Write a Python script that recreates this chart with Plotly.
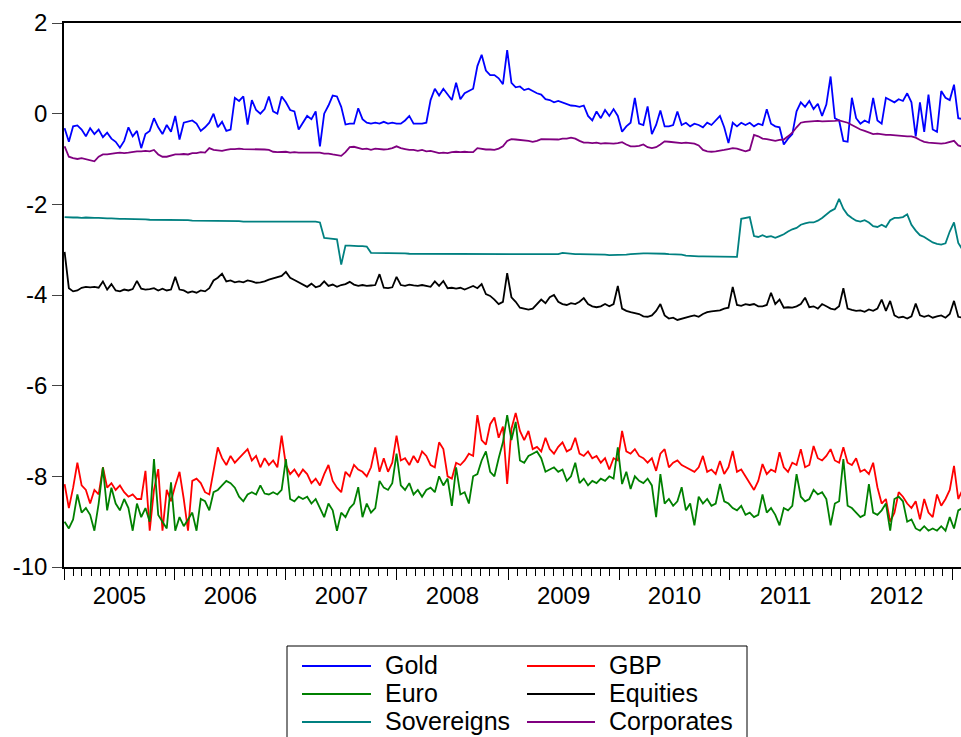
import pandas as pd
import plotly.graph_objects as go

# Fortnightly observations, January 2005 to January 2013
dates = pd.date_range("2005-01-03", periods=212, freq="14D")

gold = [
    -0.32, -0.62, -0.28, -0.26, -0.35, -0.5, -0.32, -0.45, -0.35, -0.52,
    -0.42, -0.55, -0.62, -0.75, -0.6, -0.3, -0.5, -0.38, -0.76, -0.45,
    -0.38, -0.1, -0.3, -0.45, -0.25, -0.4, -0.05, -0.57, -0.2, -0.18,
    -0.15, -0.22, -0.38, -0.3, -0.2, 0.0, -0.3, -0.18, -0.38, -0.35,
    0.35, 0.28, 0.38, -0.24, 0.3, 0.08, 0.0, 0.1, 0.38, 0.05,
    0.0, 0.38, 0.25, 0.08, 0.05, -0.35, -0.2, -0.05, -0.12, 0.05,
    -0.72, 0.0, 0.18, 0.4, 0.38, 0.15, -0.24, -0.22, -0.22, 0.12,
    -0.12, -0.2, -0.22, -0.2, -0.22, -0.18, -0.22, -0.2, -0.22, -0.22,
    -0.15, -0.05, -0.22, -0.22, -0.22, -0.2, 0.3, 0.55, 0.4, 0.55,
    0.42, 0.3, 0.68, 0.32, 0.45, 0.5, 0.55, 1.05, 1.3, 0.95,
    0.85, 0.85, 0.78, 0.65, 1.4, 0.68, 0.58, 0.6, 0.52, 0.55,
    0.5, 0.45, 0.42, 0.32, 0.3, 0.25, 0.28, 0.25, 0.22, 0.18,
    0.17, 0.15, 0.18, -0.05, -0.15, 0.05, -0.1, 0.08, -0.05, 0.1,
    -0.05, -0.4, -0.28, -0.2, 0.35, -0.22, -0.25, 0.16, -0.45, -0.25,
    0.07, -0.28, -0.28, -0.25, 0.05, -0.25, -0.2, -0.28, -0.22, -0.25,
    -0.3, -0.2, -0.25, -0.15, -0.05, -0.3, -0.65, -0.2, -0.28, -0.2,
    -0.25, -0.2, -0.28, -0.22, -0.25, 0.1, -0.22, -0.28, -0.3, -0.68,
    -0.55, -0.45, 0.05, 0.25, 0.15, 0.28, 0.1, 0.22, -0.05, 0.2,
    0.82, -0.1, -0.15, -0.6, -0.62, 0.35, -0.1, -0.22, -0.15, -0.2,
    0.35, -0.15, -0.22, 0.35, 0.3, 0.25, 0.32, 0.28, 0.45, 0.25,
    -0.5, 0.25, -0.4, 0.42, -0.35, -0.4, 0.5, 0.35, 0.3, 0.64,
    -0.1, -0.12,
]

gbp = [
    -8.17, -8.7, -8.25, -7.7, -8.2, -8.3, -8.6, -8.3, -8.4, -7.8,
    -8.25, -8.15, -8.3, -8.2, -8.35, -8.45, -8.4, -8.5, -8.5, -7.88,
    -9.2, -8.3, -7.84, -9.2, -8.3, -8.55, -8.2, -7.9, -8.5, -9.2,
    -8.1, -8.05, -8.15, -8.35, -8.4, -7.9, -7.36, -7.6, -7.75, -7.55,
    -7.7, -7.6, -7.5, -7.4, -7.65, -7.55, -7.8, -7.6, -7.75, -7.65,
    -7.8, -7.1, -7.75, -7.95, -7.85, -8.0, -7.85, -7.95, -8.15, -8.05,
    -8.2, -7.95, -7.75, -8.1, -8.25, -8.35, -7.9, -8.0, -7.75, -7.85,
    -7.9, -8.0, -7.8, -7.36, -7.9, -7.6, -7.9, -7.7, -7.1, -7.65,
    -7.6, -7.75, -7.55, -7.7, -7.45, -7.55, -7.75, -7.8, -7.25, -7.4,
    -8.0, -8.05, -7.7, -7.75, -7.65, -7.5, -7.55, -6.65, -7.2, -7.3,
    -6.85, -6.7, -7.15, -6.9, -8.17, -6.95, -6.6, -7.0, -7.2, -7.0,
    -7.4, -7.35, -7.45, -7.15, -7.4, -7.5, -7.35, -7.25, -7.45, -7.4,
    -7.15, -7.5, -7.55, -7.45, -7.6, -7.55, -7.7, -7.6, -7.85, -7.6,
    -7.65, -7.0, -7.45, -7.5, -7.4, -7.55, -7.6, -7.7, -7.6, -7.88,
    -7.5, -7.4, -7.8, -7.7, -7.65, -7.75, -7.8, -7.85, -7.9, -7.8,
    -7.55, -7.9, -7.85, -7.95, -7.66, -7.95, -7.8, -7.44, -7.9, -7.85,
    -8.0, -8.15, -8.3, -8.1, -7.73, -7.95, -7.85, -7.9, -7.47, -7.8,
    -7.9, -7.7, -7.75, -7.4, -7.8, -7.75, -7.33, -7.6, -7.65, -7.55,
    -7.4, -7.65, -7.7, -7.36, -7.7, -7.75, -7.6, -7.9, -7.85, -7.95,
    -7.7, -8.24, -8.6, -8.5, -9.0, -8.8, -8.35, -8.45, -8.6, -8.7,
    -8.55, -8.95, -8.5, -8.8, -8.9, -8.4, -8.65, -8.5, -8.3, -7.77,
    -8.5, -8.3,
]

euro = [
    -9.0, -9.15, -8.95, -8.4, -8.8, -8.7, -8.85, -9.2, -8.6, -7.8,
    -8.75, -8.25, -8.6, -8.75, -8.5, -8.7, -9.2, -8.6, -8.9, -8.7,
    -9.0, -7.62, -8.85, -9.0, -9.15, -8.13, -9.2, -8.9, -9.1, -8.95,
    -8.8, -9.2, -8.5, -8.55, -8.75, -8.35, -8.3, -8.2, -8.1, -8.15,
    -8.25, -8.45, -8.55, -8.4, -8.35, -8.4, -8.2, -8.38, -8.4, -8.35,
    -8.4, -8.3, -7.62, -8.5, -8.55, -8.45, -8.5, -8.45, -8.6, -8.5,
    -8.7, -8.9, -8.6, -8.75, -9.2, -8.8, -8.9, -8.7, -8.6, -8.24,
    -8.9, -8.6, -8.8, -8.7, -8.1, -8.25, -8.3, -8.15, -7.5, -8.2,
    -8.3, -8.15, -8.4, -8.3, -8.45, -8.3, -8.25, -8.35, -8.0, -8.2,
    -8.05, -8.65, -7.8, -8.4, -8.35, -8.6, -8.0, -7.95, -7.65, -7.45,
    -7.9, -8.0, -7.6, -7.25, -6.65, -7.2, -6.8, -7.65, -7.7, -7.55,
    -7.5, -7.45, -7.6, -7.9, -7.85, -7.8, -7.9, -7.85, -8.1, -8.0,
    -7.7, -8.15, -8.05, -8.2, -8.1, -8.15, -8.05, -8.1, -8.0, -8.05,
    -7.36, -8.17, -7.9, -8.28, -8.0, -8.1, -8.15, -8.05, -8.2, -8.9,
    -7.95, -8.6, -8.5, -8.65, -8.55, -8.24, -8.75, -8.6, -9.08, -8.45,
    -8.6, -8.5, -8.65, -8.6, -8.17, -8.55, -8.6, -8.7, -8.75, -8.65,
    -8.85, -8.8, -8.9, -8.85, -8.4, -8.8, -8.7, -8.85, -9.08, -8.7,
    -8.75, -8.65, -7.95, -8.45, -8.55, -8.5, -8.3, -8.4, -8.35, -8.5,
    -9.08, -8.6, -8.55, -7.62, -8.65, -8.7, -8.8, -8.9, -8.85, -8.17,
    -8.8, -8.85, -8.75, -8.6, -9.2, -8.5, -8.45, -8.55, -9.0, -8.95,
    -9.15, -9.2, -9.1, -9.2, -9.15, -9.2, -9.1, -9.2, -8.9, -9.15,
    -8.75, -8.7,
]

equities = [
    -3.05, -3.85, -3.92, -3.9, -3.84, -3.82, -3.83, -3.82, -3.84, -3.7,
    -3.88, -3.76, -3.9, -3.92, -3.88, -3.9, -3.87, -3.69, -3.86, -3.88,
    -3.87, -3.85, -3.9, -3.86, -3.9, -3.88, -3.6, -3.88, -3.9, -3.95,
    -3.92, -3.95, -3.9, -3.92, -3.85, -3.68, -3.62, -3.53, -3.7, -3.68,
    -3.72, -3.7, -3.72, -3.68, -3.7, -3.73, -3.72, -3.7, -3.66, -3.63,
    -3.6, -3.58, -3.49, -3.62, -3.67, -3.72, -3.78, -3.82, -3.75, -3.83,
    -3.8, -3.7, -3.8, -3.77, -3.82, -3.78, -3.76, -3.71, -3.77, -3.8,
    -3.78, -3.8, -3.79, -3.78, -3.54, -3.84, -3.85, -3.83, -3.6, -3.78,
    -3.8, -3.77, -3.79, -3.8, -3.78, -3.8, -3.82, -3.7, -3.8, -3.69,
    -3.85, -3.84, -3.86, -3.84, -3.88, -3.84, -3.8, -3.85, -3.76, -3.98,
    -4.02, -4.1, -4.2, -4.15, -3.52, -4.05, -4.15, -4.28, -4.3, -4.32,
    -4.3, -4.2, -4.1, -4.18, -4.05, -4.0, -4.15, -4.2, -4.22, -4.18,
    -4.2, -4.15, -4.07, -4.2, -4.25, -4.27, -4.25, -4.2, -4.25, -4.2,
    -3.8, -4.3, -4.35, -4.38, -4.4, -4.42, -4.47, -4.48, -4.45, -4.35,
    -4.2, -4.45, -4.52, -4.5, -4.55, -4.52, -4.5, -4.47, -4.45, -4.48,
    -4.42, -4.38, -4.36, -4.35, -4.34, -4.3, -4.28, -3.82, -4.22, -4.24,
    -4.2, -4.22, -4.2, -4.25, -4.25, -4.22, -3.95, -4.2, -4.1, -4.28,
    -4.27, -4.28, -4.25, -4.2, -4.06, -4.27, -4.25, -4.3, -4.2, -4.25,
    -4.3, -4.32, -4.25, -3.85, -4.3, -4.33, -4.35, -4.34, -4.37, -4.32,
    -4.35, -4.3, -4.1, -4.35, -4.13, -4.45, -4.5, -4.48, -4.52, -4.47,
    -4.19, -4.45, -4.48, -4.45, -4.5, -4.47, -4.45, -4.5, -4.42, -4.13,
    -4.48, -4.5,
]

sovereigns = [
    -2.28, -2.29, -2.29, -2.29, -2.30, -2.29, -2.30, -2.30, -2.30, -2.31,
    -2.31, -2.31, -2.32, -2.32, -2.32, -2.32, -2.33, -2.33, -2.33, -2.33,
    -2.34, -2.34, -2.34, -2.34, -2.35, -2.35, -2.35, -2.35, -2.35, -2.35,
    -2.36, -2.36, -2.36, -2.36, -2.36, -2.36, -2.36, -2.36, -2.37, -2.37,
    -2.37, -2.37, -2.38, -2.38, -2.38, -2.38, -2.38, -2.38, -2.38, -2.38,
    -2.38, -2.38, -2.38, -2.38, -2.38, -2.38, -2.38, -2.38, -2.38, -2.38,
    -2.40, -2.74, -2.75, -2.76, -2.77, -3.33, -2.91, -2.91, -2.92, -2.92,
    -2.92, -2.93, -3.07, -3.07, -3.07, -3.07, -3.08, -3.08, -3.08, -3.08,
    -3.08, -3.09, -3.09, -3.09, -3.09, -3.09, -3.09, -3.09, -3.09, -3.09,
    -3.09, -3.10, -3.10, -3.10, -3.10, -3.10, -3.10, -3.10, -3.10, -3.10,
    -3.10, -3.10, -3.10, -3.10, -3.10, -3.10, -3.10, -3.10, -3.09, -3.09,
    -3.10, -3.10, -3.10, -3.10, -3.10, -3.10, -3.10, -3.07, -3.08, -3.10,
    -3.10, -3.10, -3.10, -3.10, -3.10, -3.10, -3.11, -3.11, -3.12, -3.12,
    -3.12, -3.11, -3.11, -3.10, -3.09, -3.08, -3.08, -3.08, -3.08, -3.08,
    -3.08, -3.09, -3.10, -3.10, -3.10, -3.11, -3.13, -3.14, -3.14, -3.15,
    -3.15, -3.15, -3.15, -3.16, -3.15, -3.15, -3.15, -3.16, -3.16, -2.32,
    -2.30, -2.28, -2.70, -2.72, -2.68, -2.72, -2.70, -2.74, -2.70, -2.66,
    -2.60, -2.55, -2.52, -2.45, -2.42, -2.40, -2.40, -2.36, -2.30, -2.22,
    -2.15, -2.10, -1.88, -2.10, -2.23, -2.30, -2.36, -2.38, -2.35, -2.40,
    -2.48, -2.50, -2.45, -2.50, -2.35, -2.30, -2.30, -2.28, -2.22, -2.45,
    -2.58, -2.68, -2.72, -2.78, -2.84, -2.87, -2.89, -2.86, -2.60, -2.40,
    -2.85, -3.00,
]

corporates = [
    -0.72, -0.95, -0.98, -1.0, -0.98, -1.0, -1.02, -1.05, -0.95, -0.9,
    -0.9, -0.88, -0.87, -0.86, -0.87, -0.86, -0.84, -0.83, -0.83, -0.82,
    -0.83, -0.8, -0.9, -0.95, -0.95, -0.92, -0.9, -0.9, -0.89, -0.9,
    -0.87, -0.87, -0.85, -0.86, -0.76, -0.8, -0.81, -0.82, -0.8, -0.78,
    -0.78, -0.77, -0.78, -0.78, -0.79, -0.78, -0.78, -0.79, -0.8, -0.84,
    -0.85, -0.85, -0.84, -0.86, -0.85, -0.86, -0.86, -0.87, -0.86, -0.87,
    -0.86, -0.88, -0.88, -0.9, -0.92, -0.93, -0.85, -0.74, -0.73, -0.76,
    -0.78, -0.77, -0.8, -0.77, -0.78, -0.79, -0.78, -0.76, -0.72, -0.76,
    -0.78, -0.8, -0.8, -0.82, -0.8, -0.83, -0.82, -0.85, -0.87, -0.86,
    -0.87, -0.85, -0.84, -0.85, -0.84, -0.85, -0.85, -0.76, -0.78, -0.79,
    -0.79, -0.8, -0.77, -0.72, -0.6, -0.56, -0.57, -0.58, -0.58, -0.6,
    -0.62, -0.6, -0.56, -0.56, -0.57, -0.56, -0.57, -0.55, -0.55, -0.53,
    -0.55, -0.6, -0.64, -0.64, -0.65, -0.64, -0.66, -0.65, -0.66, -0.66,
    -0.65, -0.63, -0.68, -0.72, -0.72, -0.71, -0.68, -0.74, -0.76, -0.74,
    -0.68, -0.61, -0.62, -0.63, -0.65, -0.65, -0.64, -0.65, -0.66, -0.7,
    -0.8, -0.83, -0.84, -0.83, -0.82, -0.8, -0.78, -0.76, -0.77, -0.8,
    -0.83, -0.8, -0.47, -0.5, -0.55, -0.56, -0.58, -0.6, -0.58, -0.57,
    -0.5, -0.42, -0.3, -0.2, -0.18, -0.17, -0.16, -0.16, -0.17, -0.17,
    -0.17, -0.16, -0.15, -0.18, -0.2, -0.25, -0.3, -0.35, -0.38, -0.42,
    -0.45, -0.44, -0.46, -0.47, -0.47, -0.48, -0.48, -0.49, -0.5, -0.5,
    -0.53, -0.58, -0.62, -0.64, -0.65, -0.66, -0.66, -0.65, -0.63, -0.6,
    -0.7, -0.73,
]

series_names = ["Gold", "GBP", "Euro", "Equities", "Sovereigns", "Corporates"]
series_values = [gold, gbp, euro, equities, sovereigns, corporates]
series_colors = ["#0000FF", "#FF0000", "#008000", "#000000", "#008080", "#800080"]

y_tick_vals = [2, 0, -2, -4, -6, -8, -10]
y_tick_text = ["2", "0", "-2", "-4", "-6", "-8", "-10"]

FONT = "Liberation Sans, Arial, Helvetica, sans-serif"
W, H = 961, 737
PLOT_L, PLOT_R, PLOT_T, PLOT_B = 64, 961, 23, 567


def px(x):
    return (x - PLOT_L) / (PLOT_R - PLOT_L)


def py(y):
    return (PLOT_B - y) / (PLOT_B - PLOT_T)


fig = go.Figure()
for name, vals, col in zip(series_names, series_values, series_colors):
    fig.add_trace(go.Scatter(
        x=dates, y=vals, name=name, mode="lines",
        line=dict(color=col, width=1.8),
        showlegend=False,
    ))

# Boxed two-column key below the chart
shapes = [dict(type="rect", xref="paper", yref="paper",
               x0=px(287), x1=px(747), y0=py(646), y1=py(775),
               line=dict(color="black", width=1), fillcolor="white", layer="above")]
annotations = []
for k, (name, col) in enumerate(zip(series_names, series_colors)):
    row, colno = divmod(k, 2)
    lx0, lx1, tx = (302, 371, 383) if colno == 0 else (527, 595, 607)
    yy = 666 + row * 28
    shapes.append(dict(type="line", xref="paper", yref="paper",
                       x0=px(lx0), x1=px(lx1), y0=py(yy), y1=py(yy),
                       line=dict(color=col, width=2), layer="above"))
    annotations.append(dict(xref="paper", yref="paper", x=px(tx), y=py(yy - 1),
                            text=name, showarrow=False, xanchor="left", yanchor="middle",
                            font=dict(family=FONT, size=25, color="black")))

fig.update_layout(
    width=W, height=H,
    margin=dict(l=PLOT_L, r=W - PLOT_R, t=PLOT_T, b=H - PLOT_B),
    paper_bgcolor="white", plot_bgcolor="white",
    font=dict(family=FONT, size=24, color="black"),
    shapes=shapes, annotations=annotations,
    showlegend=False,
)
fig.update_xaxes(
    type="date", range=["2005-01-01", "2013-01-30"],
    tick0="2005-01-01", dtick="M12", tickformat="%Y", ticklabelmode="period",
    ticks="outside", ticklen=11, tickwidth=1, tickcolor="black",
    ticklabelstandoff=-5,
    showline=True, linecolor="black", linewidth=1.5, mirror=True,
    showgrid=False, zeroline=False,
    minor=dict(dtick="M1", ticks="outside", ticklen=7, tickwidth=1,
               tickcolor="black", showgrid=False),
    tickfont=dict(family=FONT, size=24, color="black"),
)
fig.update_yaxes(
    range=[-10, 2], tickvals=y_tick_vals, ticktext=y_tick_text,
    ticks="outside", ticklen=10, tickwidth=1, tickcolor="#444444",
    showline=True, linecolor="black", linewidth=1.5,
    showgrid=False, zeroline=False,
    tickfont=dict(family=FONT, size=24, color="black"),
)

fig.write_html("out.html")
